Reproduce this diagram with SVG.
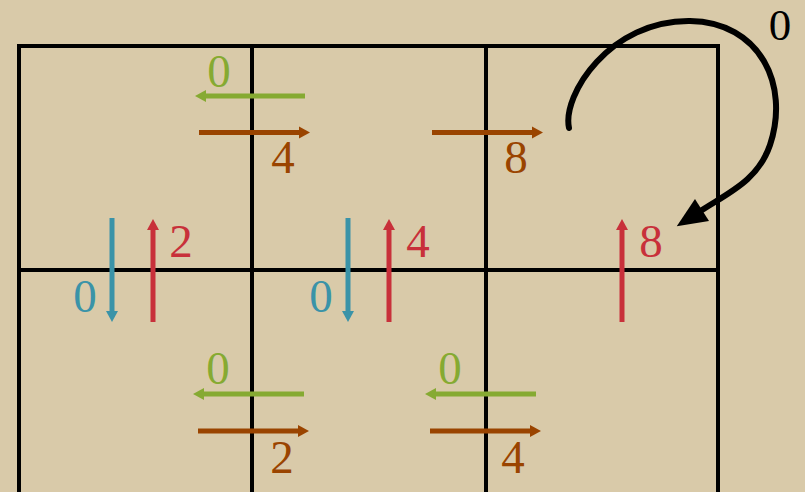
<svg xmlns="http://www.w3.org/2000/svg" width="805" height="492" viewBox="0 0 805 492">
<style>
.grid{stroke:#000;stroke-width:4;fill:none;stroke-linecap:square}
.g{stroke:#86AA32;stroke-width:5}
.b{stroke:#9A4400;stroke-width:5}
.c{stroke:#3A93A8;stroke-width:5}
.r{stroke:#C8303A;stroke-width:5}
text{font-family:"Liberation Serif","Times New Roman",serif;font-size:47px;text-anchor:middle}
.tg{fill:#86AA32}.tb{fill:#9A4400}.tc{fill:#3A93A8}.tr{fill:#C8303A}.tk{fill:#000}
</style>
<defs>
<marker id="mg" markerUnits="userSpaceOnUse" markerWidth="14" markerHeight="14" refX="0" refY="6" orient="auto" overflow="visible"><path d="M0,0 L11,6 L0,12 Z" fill="#86AA32"/></marker>
<marker id="mb" markerUnits="userSpaceOnUse" markerWidth="14" markerHeight="14" refX="0" refY="6" orient="auto" overflow="visible"><path d="M0,0 L11,6 L0,12 Z" fill="#9A4400"/></marker>
<marker id="mc" markerUnits="userSpaceOnUse" markerWidth="14" markerHeight="14" refX="0" refY="6" orient="auto" overflow="visible"><path d="M0,0 L11,6 L0,12 Z" fill="#3A93A8"/></marker>
<marker id="mr" markerUnits="userSpaceOnUse" markerWidth="14" markerHeight="14" refX="0" refY="6" orient="auto" overflow="visible"><path d="M0,0 L11,6 L0,12 Z" fill="#C8303A"/></marker>
<marker id="mk" markerUnits="userSpaceOnUse" markerWidth="40" markerHeight="40" refX="0" refY="13" orient="auto" overflow="visible"><path d="M0,0 L30,13 L0,26 Z" fill="#000"/></marker>
</defs>
<rect width="805" height="492" fill="#D9CAA9"/>
<g id="grid">
<path class="grid" d="M19,495 V46 H718 V495 M252,46 V495 M486,46 V495 M19,270 H718"/>
</g>
<g id="connectors">
<line class="g" x1="305" y1="96" x2="206" y2="96" marker-end="url(#mg)"/>
<line class="b" x1="199" y1="132.5" x2="299" y2="132.5" marker-end="url(#mb)"/>
<line class="b" x1="432" y1="132.5" x2="532" y2="132.5" marker-end="url(#mb)"/>
<line class="c" x1="112" y1="218" x2="112" y2="311" marker-end="url(#mc)"/>
<line class="r" x1="153" y1="322" x2="153" y2="230" marker-end="url(#mr)"/>
<line class="c" x1="348" y1="218" x2="348" y2="311" marker-end="url(#mc)"/>
<line class="r" x1="389" y1="322" x2="389" y2="230" marker-end="url(#mr)"/>
<line class="r" x1="622" y1="322" x2="622" y2="230" marker-end="url(#mr)"/>
<line class="g" x1="304" y1="394" x2="204" y2="394" marker-end="url(#mg)"/>
<line class="b" x1="198" y1="431" x2="298" y2="431" marker-end="url(#mb)"/>
<line class="g" x1="536" y1="394" x2="436" y2="394" marker-end="url(#mg)"/>
<line class="b" x1="430" y1="431" x2="530" y2="431" marker-end="url(#mb)"/>
<path d="M569,128 C562,95 610,20 690,21 C760,22 790,85 770,145 C758,180 730,192 702,210" fill="none" stroke="#000" stroke-width="6" stroke-linecap="round" marker-end="url(#mk)"/>
</g>
<g id="labels">
<text class="tg" x="219" y="87">0</text>
<text class="tb" x="283" y="173">4</text>
<text class="tb" x="516" y="173">8</text>
<text class="tk" x="780" y="40" style="font-size:45px">0</text>
<text class="tr" x="181" y="257">2</text>
<text class="tc" x="85" y="312">0</text>
<text class="tr" x="418" y="257">4</text>
<text class="tc" x="321" y="312">0</text>
<text class="tr" x="651" y="257">8</text>
<text class="tg" x="218" y="384">0</text>
<text class="tb" x="282" y="473">2</text>
<text class="tg" x="450" y="384">0</text>
<text class="tb" x="513" y="473">4</text>
</g>
</svg>
